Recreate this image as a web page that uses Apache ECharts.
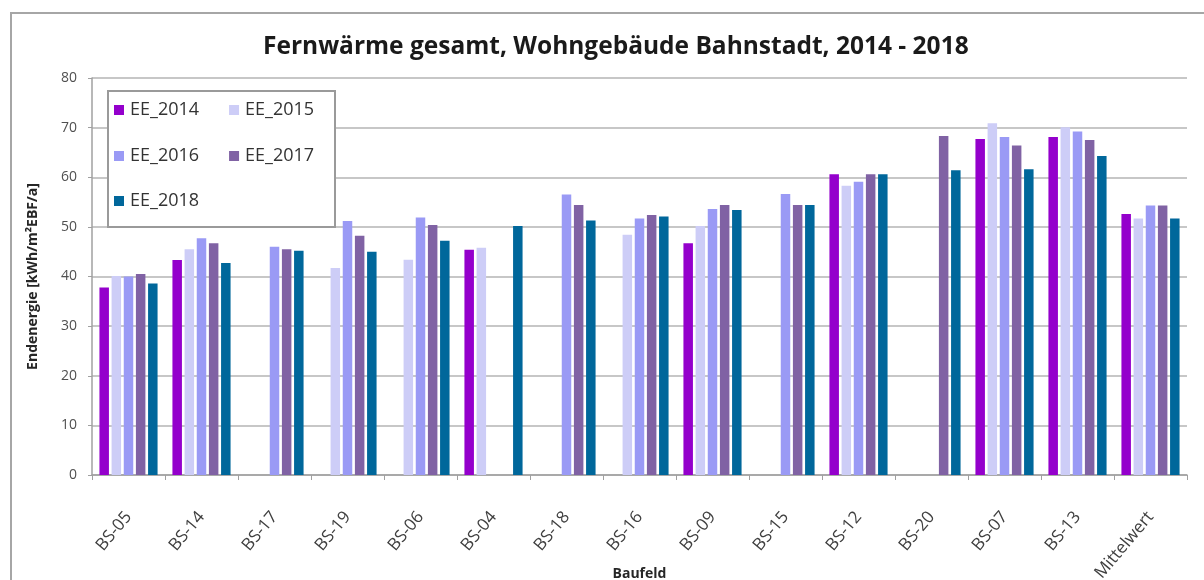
<!DOCTYPE html>
<html>
<head>
<meta charset="utf-8">
<script src="https://cdn.jsdelivr.net/npm/echarts@6/dist/echarts.min.js"></script>
<style>
  html, body { margin: 0; padding: 0; background: #ffffff; }
  #chart { width: 1204px; height: 580px; }
</style>
</head>
<body>
<div id="chart"></div>
<script>
// Baufelder (building plots) plus the overall mean
const categories = ['BS-05', 'BS-14', 'BS-17', 'BS-19', 'BS-06', 'BS-04', 'BS-18', 'BS-16',
  'BS-09', 'BS-15', 'BS-12', 'BS-20', 'BS-07', 'BS-13', 'Mittelwert'];

// Final energy per year in kWh/m²EBF/a (null = no value for that plot)
const ee2014 = [37.8, 43.3, null, null, null, 45.4, null, null, 46.7, null, 60.6, null, 67.7, 68.1, 52.6];
const ee2015 = [40.1, 45.5, null, 41.7, 43.4, 45.8, null, 48.4, 50.2, null, 58.3, null, 70.9, 70.1, 51.7];
const ee2016 = [40.0, 47.7, 46.0, 51.2, 51.9, null, 56.5, 51.7, 53.6, 56.6, 59.1, null, 68.1, 69.2, 54.3];
const ee2017 = [40.5, 46.7, 45.5, 48.2, 50.4, null, 54.4, 52.4, 54.4, 54.4, 60.6, 68.3, 66.4, 67.5, 54.3];
const ee2018 = [38.6, 42.7, 45.2, 45.0, 47.2, 50.2, 51.3, 52.1, 53.4, 54.4, 60.6, 61.4, 61.6, 64.3, 51.7];

const yTicks = [0, 10, 20, 30, 40, 50, 60, 70, 80];

const seriesNames = ['EE_2014', 'EE_2015', 'EE_2016', 'EE_2017', 'EE_2018'];
const seriesData = [ee2014, ee2015, ee2016, ee2017, ee2018];
const seriesColors = ['#9400CC', '#CDCDF7', '#9A9AF5', '#8062A4', '#00679B'];

const FONT = '"Open Sans", "Noto Sans", sans-serif';

const chart = echarts.init(document.getElementById('chart'));

const legendRow = (names, top) => ({
  data: names,
  left: 114,
  top: top,
  orient: 'horizontal',
  icon: 'rect',
  itemWidth: 10,
  itemHeight: 10,
  itemGap: 30,
  padding: 0,
  selectedMode: false,
  z: 20,
  textStyle: { fontFamily: FONT, fontSize: 18, color: '#333333', padding: [0, 0, 0, 1] }
});

chart.setOption({
  animation: false,
  backgroundColor: '#ffffff',
  title: {
    text: 'Fernwärme gesamt, Wohngebäude Bahnstadt, 2014 - 2018',
    left: 258,
    top: 30,
    textStyle: { fontFamily: FONT, fontSize: 24.5, fontWeight: 'bold', color: '#1a1a1a' }
  },
  graphic: [
    {
      type: 'rect',
      shape: { x: 11, y: 13, width: 1240, height: 640 },
      style: { fill: 'none', stroke: '#a6a6a6', lineWidth: 2 },
      z: 0
    },
    {
      type: 'rect',
      shape: { x: 108, y: 91, width: 227, height: 136 },
      style: { fill: '#ffffff', stroke: '#9a9a9a', lineWidth: 2 },
      z: 10
    }
  ],
  legend: [
    legendRow(['EE_2014', 'EE_2015'], 101),
    legendRow(['EE_2016', 'EE_2017'], 147),
    legendRow(['EE_2018'], 192)
  ],
  grid: { left: 92, right: 17, top: 78, bottom: 105, containLabel: false, outerBoundsMode: 'none' },
  xAxis: {
    type: 'category',
    data: categories,
    name: 'Baufeld',
    nameLocation: 'middle',
    nameGap: 92,
    nameMoveOverlap: false,
    nameTextStyle: { fontFamily: FONT, fontSize: 14, fontWeight: 'bold', color: '#262626' },
    axisLine: { lineStyle: { color: '#a0a0a0', width: 1.5 } },
    axisTick: { show: true, length: 5, alignWithLabel: false, lineStyle: { color: '#a0a0a0' } },
    axisLabel: {
      rotate: 50,
      interval: 0,
      margin: 39,
      fontFamily: FONT,
      fontSize: 17,
      color: '#404040'
    }
  },
  yAxis: {
    type: 'value',
    min: 0,
    max: 80,
    interval: 10,
    name: 'Endenergie [kWh/m²EBF/a]',
    nameLocation: 'middle',
    nameGap: 52,
    nameMoveOverlap: false,
    nameTextStyle: { fontFamily: FONT, fontSize: 14, fontWeight: 'bold', color: '#262626' },
    axisLine: { show: true, lineStyle: { color: '#a0a0a0', width: 1.5 } },
    axisTick: { show: true, length: 4, lineStyle: { color: '#a0a0a0' } },
    splitLine: { lineStyle: { color: '#b4b4b4', width: 1.5 } },
    axisLabel: {
      fontFamily: FONT,
      fontSize: 14,
      color: '#505050',
      margin: 15,
      formatter: (v) => (yTicks.includes(v) ? String(v) : '')
    }
  },
  series: seriesNames.map((name, i) => ({
    name: name,
    type: 'bar',
    data: seriesData[i],
    barWidth: 9.5,
    barGap: '28%',
    itemStyle: { color: seriesColors[i] },
    z: 2
  }))
});
</script>
</body>
</html>
